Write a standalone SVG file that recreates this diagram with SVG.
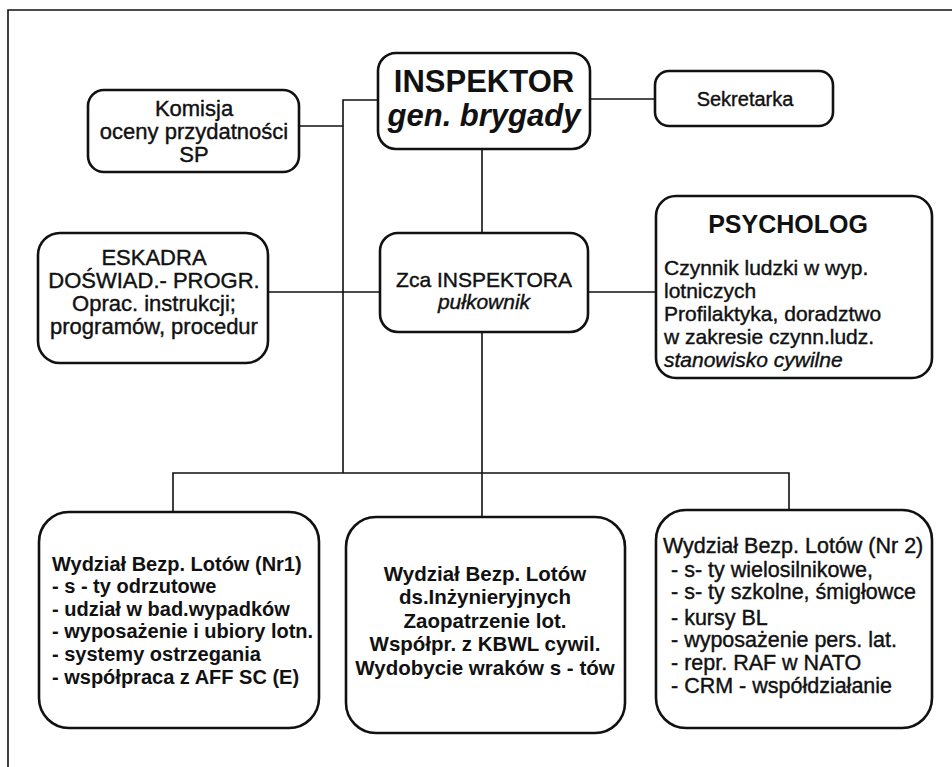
<svg xmlns="http://www.w3.org/2000/svg" width="952" height="767" viewBox="0 0 952 767">
  <style>
    .box { fill: #ffffff; stroke: #111; stroke-width: 2.6; }
    .wire { fill: none; stroke: #111; stroke-width: 1.6; }
    text { font-family: "Liberation Sans", Arial, sans-serif; fill: #111; }
    .r { stroke: #111; stroke-width: 0.4; }
    .c { text-anchor: middle; }
    .b { font-weight: bold; }
    .i { font-style: italic; }
  </style>
  <rect x="0" y="0" width="952" height="767" fill="#ffffff"/>
  <!-- page frame -->
  <path d="M 8 767 L 8 10 L 952 10" fill="none" stroke="#111" stroke-width="1.6"/>

  <g id="connectors">
    <path class="wire" d="M 299 126 L 343 126"/>
    <path class="wire" d="M 378 100 L 343 100 L 343 473"/>
    <path class="wire" d="M 590 99 L 655 99"/>
    <path class="wire" d="M 482 149 L 482 233"/>
    <path class="wire" d="M 268 292 L 380 292"/>
    <path class="wire" d="M 588 292 L 656 292"/>
    <path class="wire" d="M 482 332 L 482 517"/>
    <path class="wire" d="M 173 512 L 173 473 L 789 473 L 789 510"/>
  </g>

  <g id="inspektor">
    <rect class="box" x="378" y="53" width="212" height="96" rx="18"/>
    <text class="c b" x="484" y="92" font-size="31">INSPEKTOR</text>
    <text class="c b i" x="484" y="126" font-size="31">gen. brygady</text>
  </g>

  <g id="komisja">
    <rect class="box" x="88" y="90" width="211" height="82" rx="16"/>
    <text class="c r" x="194" y="116" font-size="22">Komisja</text>
    <text class="c r" x="194" y="139" font-size="22">oceny przydatności</text>
    <text class="c r" x="194" y="162" font-size="22">SP</text>
  </g>

  <g id="sekretarka">
    <rect class="box" x="655" y="71" width="178" height="55" rx="14"/>
    <text class="c r" x="745" y="106" font-size="20">Sekretarka</text>
  </g>

  <g id="eskadra">
    <rect class="box" x="38" y="233" width="230" height="130" rx="22"/>
    <text class="c r" x="154" y="265" font-size="22">ESKADRA</text>
    <text class="c r" x="154" y="288" font-size="22">DOŚWIAD.- PROGR.</text>
    <text class="c r" x="154" y="311" font-size="22">Oprac. instrukcji;</text>
    <text class="c r" x="154" y="334" font-size="22">programów, procedur</text>
  </g>

  <g id="zca">
    <rect class="box" x="380" y="233" width="208" height="99" rx="18"/>
    <text class="c r" x="484" y="287" font-size="21">Zca INSPEKTORA</text>
    <text class="c i r" x="484" y="309" font-size="21">pułkownik</text>
  </g>

  <g id="psycholog">
    <rect class="box" x="656" y="196" width="276" height="182" rx="20"/>
    <text class="c b" x="788" y="233" font-size="25">PSYCHOLOG</text>
    <text class="r" x="664" y="275" font-size="21">Czynnik ludzki w wyp.</text>
    <text class="r" x="664" y="298" font-size="21">lotniczych</text>
    <text class="r" x="664" y="321" font-size="21">Profilaktyka, doradztwo</text>
    <text class="r" x="664" y="344" font-size="21">w zakresie czynn.ludz.</text>
    <text class="i r" x="664" y="367" font-size="21">stanowisko cywilne</text>
  </g>

  <g id="wydzial-nr1">
    <rect class="box" x="39" y="512" width="280" height="216" rx="30"/>
    <text class="b" x="52" y="571" font-size="20">Wydział Bezp. Lotów (Nr1)</text>
    <text class="b" x="52" y="593" font-size="20">- s - ty odrzutowe</text>
    <text class="b" x="52" y="616" font-size="20">- udział w bad.wypadków</text>
    <text class="b" x="52" y="638" font-size="20">- wyposażenie i ubiory lotn.</text>
    <text class="b" x="52" y="661" font-size="20">- systemy ostrzegania</text>
    <text class="b" x="52" y="684" font-size="20">- współpraca z AFF SC (E)</text>
  </g>

  <g id="wydzial-inz">
    <rect class="box" x="346" y="517" width="279" height="216" rx="30"/>
    <text class="c b" x="485" y="581" font-size="20.5">Wydział Bezp. Lotów</text>
    <text class="c b" x="485" y="604" font-size="20.5">ds.Inżynieryjnych</text>
    <text class="c b" x="485" y="628" font-size="20.5">Zaopatrzenie lot.</text>
    <text class="c b" x="485" y="651" font-size="20.5">Współpr. z KBWL cywil.</text>
    <text class="c b" x="485" y="675" font-size="20.5">Wydobycie wraków s - tów</text>
  </g>

  <g id="wydzial-nr2">
    <rect class="box" x="656" y="510" width="276" height="218" rx="30"/>
    <text class="r" x="663" y="553" font-size="21.5">Wydział Bezp. Lotów (Nr 2)</text>
    <text class="r" x="671" y="577" font-size="21.5">- s- ty wielosilnikowe,</text>
    <text class="r" x="671" y="599" font-size="21.5">- s- ty szkolne, śmigłowce</text>
    <text class="r" x="671" y="625" font-size="21.5">- kursy BL</text>
    <text class="r" x="671" y="647" font-size="21.5">- wyposażenie pers. lat.</text>
    <text class="r" x="671" y="670" font-size="21.5">- repr. RAF w NATO</text>
    <text class="r" x="671" y="693" font-size="21.5">- CRM - współdziałanie</text>
  </g>
</svg>
